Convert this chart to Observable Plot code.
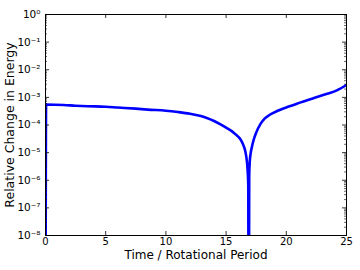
<!DOCTYPE html>
<html>
<head>
<meta charset="utf-8">
<script src="https://cdn.jsdelivr.net/npm/d3@7"></script>
<script src="https://cdn.jsdelivr.net/npm/@observablehq/plot@0.6"></script>
<style>
  html, body { margin: 0; padding: 0; background: #fff; }
  #chart { width: 360px; height: 270px; }
  svg { font-family: "DejaVu Sans", sans-serif; }
</style>
</head>
<body>
<div id="chart"></div>
<script>
// Time in rotational periods
const time = [0, 0.05, 1.5, 2.5, 3.5, 5, 6, 7.5, 8.5, 10, 11, 12, 12.9, 13.4, 14, 14.5, 15, 15.6, 16, 16.2, 16.45, 16.6, 16.7, 16.78, 16.84, 16.87, 16.89, 16.92, 16.97, 17.05, 17.17, 17.3, 17.5, 17.86, 18.2, 18.6, 19.24, 20, 20.6, 21.2, 22.3, 23.4, 24.2, 25];
// Relative change in energy (0 where the curve drops off the bottom of the log axis)
const energy = [0, 5.5e-4, 5.3e-4, 5.0e-4, 4.8e-4, 4.6e-4, 4.3e-4, 3.9e-4, 3.6e-4, 3.3e-4, 2.95e-4, 2.55e-4, 2.1e-4, 1.8e-4, 1.4e-4, 1.08e-4, 8.0e-5, 5.4e-5, 3.8e-5, 3.0e-5, 1.8e-5, 1.1e-5, 6.1e-6, 2.6e-6, 6.5e-7, 0, 0, 1.5e-6, 5.0e-6, 1.0e-5, 1.8e-5, 3.0e-5, 5.3e-5, 1.1e-4, 1.7e-4, 2.3e-4, 3.2e-4, 4.3e-4, 5.3e-4, 6.6e-4, 9.5e-4, 1.35e-3, 1.8e-3, 2.8e-3];

const xTicks = [0, 5, 10, 15, 20, 25];
const yExponents = [0, -1, -2, -3, -4, -5, -6, -7, -8];
const yMinor = d3.range(-8, 0).flatMap(k => d3.range(2, 10).map(m => m * 10 ** k));

const sup = {"0":"⁰","1":"¹","2":"²","3":"³","4":"⁴","5":"⁵","6":"⁶","7":"⁷","8":"⁸","9":"⁹","-":"⁻"};
const expLabel = e => "10" + String(e).split("").map(c => sup[c]).join("");

const data = time.map((t, i) => ({t, e: energy[i] > 0 ? energy[i] : 1e-12}));

const W = 360, H = 270, ML = 45, MR = 14, MT = 14, MB = 35;
const PW = W - ML - MR, PH = H - MT - MB;

const chart = Plot.plot({
  width: W,
  height: H,
  marginLeft: ML,
  marginRight: MR,
  marginTop: MT,
  marginBottom: MB,
  style: {fontFamily: "DejaVu Sans, sans-serif", background: "#fff"},
  x: {domain: [0, 25], axis: null},
  y: {type: "log", domain: [1e-8, 1], axis: null},
  marks: [
    Plot.line(data, {x: "t", y: "e", stroke: "#0000ff", strokeWidth: 2.6, clip: true, curve: "monotone-x", strokeLinejoin: "round"}),
    // major y ticks, left and right, inward
    Plot.tickY(yExponents, {y: d => 10 ** d, stroke: "#000", strokeWidth: 0.8, insetRight: PW - 4}),
    Plot.tickY(yExponents, {y: d => 10 ** d, stroke: "#000", strokeWidth: 0.8, insetLeft: PW - 4}),
    // minor y ticks
    Plot.tickY(yMinor, {y: d => d, stroke: "#000", strokeWidth: 0.6, insetRight: PW - 2}),
    Plot.tickY(yMinor, {y: d => d, stroke: "#000", strokeWidth: 0.6, insetLeft: PW - 2}),
    // x ticks, top and bottom
    Plot.tickX(xTicks, {x: d => d, stroke: "#000", strokeWidth: 0.8, insetTop: PH - 4}),
    Plot.tickX(xTicks, {x: d => d, stroke: "#000", strokeWidth: 0.8, insetBottom: PH - 4}),
    Plot.frame({stroke: "#000", strokeWidth: 1}),
    // tick labels
    Plot.text(xTicks, {x: d => d, text: d => String(d), frameAnchor: "bottom", lineAnchor: "top", dy: 2, fontSize: 10, fill: "#000"}),
    Plot.text(yExponents, {y: d => 10 ** d, text: expLabel, frameAnchor: "left", textAnchor: "end", dx: -5, fontSize: 10.5, fill: "#000"}),
    // axis labels
    Plot.text(["Time / Rotational Period"], {text: d => d, frameAnchor: "bottom", lineAnchor: "top", dy: 15, fontSize: 12, fill: "#000"}),
    Plot.text(["Relative Change in Energy"], {text: d => d, frameAnchor: "left", textAnchor: "middle", rotate: -90, dx: -36, fontSize: 12.5, fill: "#000"})
  ]
});
document.getElementById("chart").appendChild(chart);
</script>
</body>
</html>
